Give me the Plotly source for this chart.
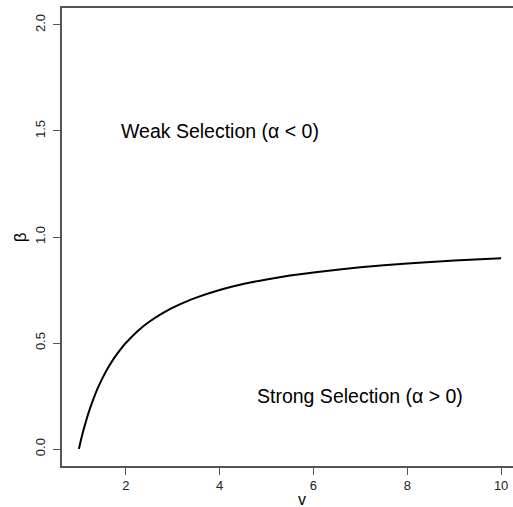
import plotly.graph_objects as go

# Values
v_vals = [1.0, 1.05, 1.1, 1.15, 1.2, 1.25, 1.3, 1.4, 1.5, 1.6, 1.75, 1.9, 2.0, 2.25, 2.5, 2.75,
          3.0, 3.25, 3.5, 4.0, 4.5, 5.0, 5.5, 6.0, 7.0, 8.0, 9.0, 10.0]
beta_vals = [0.0, 0.048, 0.091, 0.13, 0.167, 0.2, 0.231, 0.286, 0.333, 0.375, 0.429, 0.474, 0.5,
             0.556, 0.6, 0.636, 0.667, 0.692, 0.714, 0.75, 0.778, 0.8, 0.818, 0.833, 0.857,
             0.875, 0.889, 0.9]

x_ticks = [2, 4, 6, 8, 10]
y_ticks = [0.0, 0.5, 1.0, 1.5, 2.0]
y_tick_labels = ["0.0", "0.5", "1.0", "1.5", "2.0"]

labels = ["Weak Selection (\u03b1 < 0)", "Strong Selection (\u03b1 > 0)"]
label_x = [4.0, 7.0]
label_y = [1.5, 0.25]

FONT = "Liberation Sans, Arial, Helvetica, sans-serif"
AX = "#555555"
TXT = "#222222"

fig = go.Figure()
fig.add_trace(go.Scatter(x=v_vals, y=beta_vals, mode="lines",
                         line=dict(color="black", width=2, shape="spline", smoothing=0.5),
                         showlegend=False, hoverinfo="skip"))

for t, xx, yy in zip(labels, label_x, label_y):
    fig.add_annotation(x=xx, y=yy, xref="x", yref="y", text=t, showarrow=False,
                       font=dict(family=FONT, size=19.5, color="black"),
                       xanchor="center", yanchor="middle")

fig.add_annotation(x=(303 - 62) / 458, y=(466 - 499) / 458, xref="paper", yref="paper", text="v",
                   showarrow=False, font=dict(family=FONT, size=16, color="black"),
                   xanchor="center", yanchor="middle")
fig.add_annotation(x=(20 - 62) / 458, y=(466 - 237) / 458, xref="paper", yref="paper", text="\u03b2",
                   showarrow=False, textangle=-90,
                   font=dict(family=FONT, size=17, color="black"), xanchor="center", yanchor="middle")

fig.update_layout(
    width=520, height=507,
    margin=dict(l=62, r=0, t=8, b=41, pad=0),
    paper_bgcolor="white", plot_bgcolor="white",
    font=dict(family=FONT, size=13, color=TXT),
    xaxis=dict(range=[0.64, 10.36], tickvals=x_ticks, ticks="outside", ticklen=7,
               tickcolor=AX, showline=True, linecolor=AX, linewidth=1.5, mirror=True,
               showgrid=False, zeroline=False, tickfont=dict(size=13, color=TXT)),
    yaxis=dict(range=[-0.08, 2.08], tickvals=y_ticks, ticktext=y_tick_labels, ticks="outside",
               ticklen=7, tickcolor=AX, showline=True, linecolor=AX, linewidth=1.5, mirror=True,
               ticklabelstandoff=3,
               showgrid=False, zeroline=False, tickangle=-90, tickfont=dict(size=13, color=TXT)),
)

fig.write_html("out.html", config={"displayModeBar": False},
               post_script=("document.body.style.margin='0px';"
                            "document.body.style.overflow='hidden';"
                            "document.documentElement.style.overflow='hidden';"))
